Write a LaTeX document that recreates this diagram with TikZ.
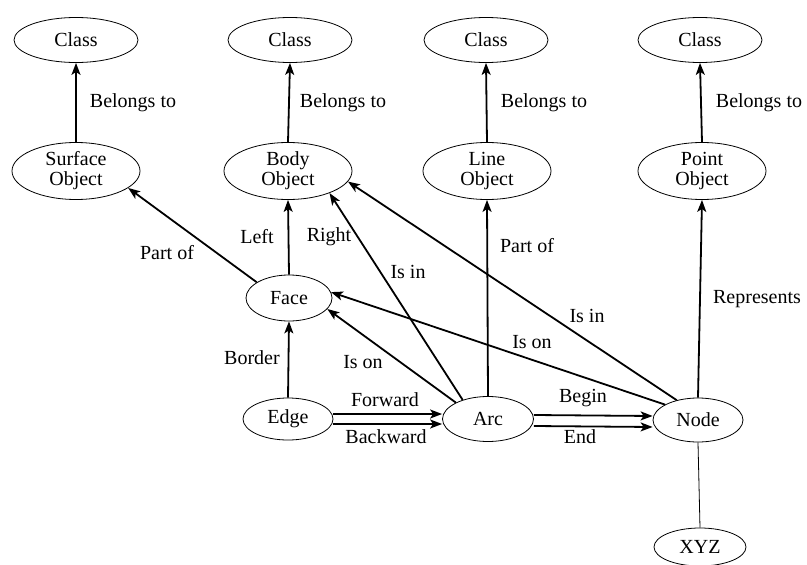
\documentclass[tikz,border=0pt]{standalone}
\usepackage{fontspec}
\setmainfont{Liberation Serif}
\usetikzlibrary{shapes.geometric,arrows.meta}
\begin{document}
\begin{tikzpicture}[x=1pt,y=-1pt,
 ell/.style={draw,ellipse,line width=0.8pt,inner sep=0pt,align=center,font=\fontsize{20}{20}\selectfont},
 cls/.style={ell,minimum width=124pt,minimum height=45pt},
 obj/.style={ell,minimum width=128pt,minimum height=57pt},
 rel/.style={line width=1.8pt,-{Stealth[length=12pt,width=9pt,inset=3pt]}},
 lbl/.style={font=\fontsize{20}{20}\selectfont,inner sep=0pt}]
\useasboundingbox (0,0) rectangle (807,565);
% classes
\node[cls] (c1) at (76,40) {Class};
\node[cls] (c2) at (290,40) {Class};
\node[cls] (c3) at (486,40) {Class};
\node[cls] (c4) at (700,40) {Class};
% objects
\node[obj] (surf) at (76,171) {Surface\\Object};
\node[obj] (body) at (288,171) {Body\\Object};
\node[obj] (line) at (487,171) {Line\\Object};
\node[obj] (point) at (702,171) {Point\\Object};
% lower nodes
\node[ell,minimum width=86pt,minimum height=46pt] (face) at (289,298) {Face};
\node[ell,minimum width=90pt,minimum height=42pt] (edge) at (288,419) {Edge};
\node[ell,minimum width=91pt,minimum height=45pt] (arc) at (488,419) {Arc};
\node[ell,minimum width=90pt,minimum height=44pt] (nd) at (698,420) {Node};
\node[ell,minimum width=92pt,minimum height=38pt] (xyz) at (700,547) {XYZ};
% belongs to
\draw[rel] (surf.north) -- (c1.south);
\draw[rel] (body.north) -- (c2.south);
\draw[rel] (line.north) -- (c3.south);
\draw[rel] (point.north) -- (c4.south);
\node[lbl] (b1) at (133,103) {Belongs to};
\node[lbl] (b2) at (343,103) {Belongs to};
\node[lbl] (b3) at (544,103) {Belongs to};
\node[lbl] (b4) at (759,103) {Belongs to};
% relations
\draw[rel] (face.154) -- (surf.-18);
\draw[rel] (face.north) -- (body.south);
\draw[rel] (edge.north) -- (face.south);
\draw[rel] (arc.143) -- (body.-28);
\draw[rel] (arc.153) -- (face.-16);
\draw[rel] (arc.north) -- (line.south);
\draw[rel] (nd.155) -- (face.8);
\draw[rel] (nd.137) -- (body.-10);
\draw[rel] (nd.north) -- (point.south);
\draw[rel] ([yshift=5pt]edge.east) -- ([yshift=5pt]arc.west);
\draw[rel] ([yshift=-5pt]edge.east) -- ([yshift=-5pt]arc.west);
\draw[rel] ([yshift=4pt]arc.east) -- ([yshift=4pt]nd.west);
\draw[rel] ([yshift=-7pt]arc.east) -- ([yshift=-7pt]nd.west);
\draw[line width=0.8pt] (nd.south) -- (xyz.north);
% labels
\node[lbl] (lpart1) at (167,253) {Part of};
\node[lbl] (lleft) at (257,237) {Left};
\node[lbl] (lright) at (329,237) {Right};
\node[lbl] (lisin1) at (408,272) {Is in};
\node[lbl] (lpart2) at (527,246) {Part of};
\node[lbl] (lisin2) at (587,316) {Is in};
\node[lbl] (lison2) at (532,342) {Is on};
\node[lbl] (lrep) at (757,299) {Represents};
\node[lbl] (lborder) at (252,358) {Border};
\node[lbl] (lison1) at (363,362) {Is on};
\node[lbl] (lfwd) at (385,400) {Forward};
\node[lbl] (lbwd) at (386,437) {Backward};
\node[lbl] (lbegin) at (583,398) {Begin};
\node[lbl] (lend) at (580,437) {End};
\end{tikzpicture}
\end{document}
